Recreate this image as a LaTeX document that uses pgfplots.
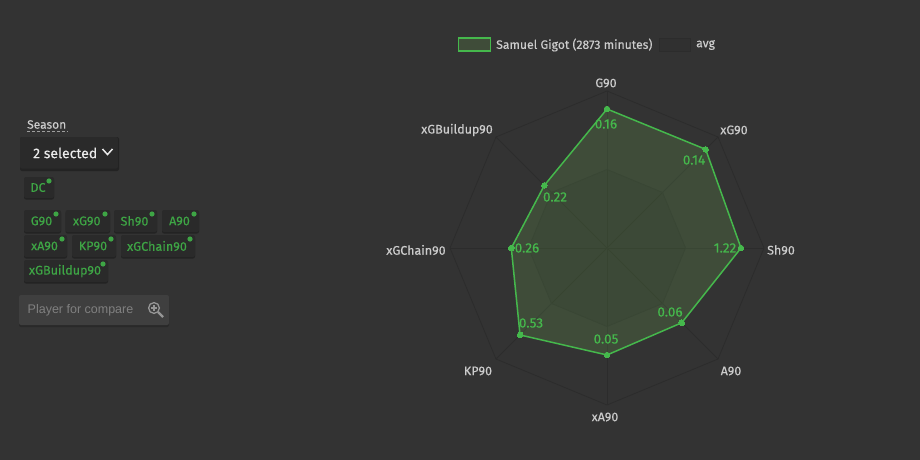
\documentclass[border=0pt]{standalone}
\usepackage{fontspec}
\setmainfont{Fira Sans}[FakeBold=0.3]
\newfontfamily\plfont{Liberation Sans}
\usepackage{pgfplots}
\pgfplotsset{compat=1.18}
\definecolor{bg}{HTML}{333333}
\definecolor{grn}{HTML}{45B84C}
\definecolor{btng}{HTML}{3EA545}
\definecolor{pfill}{HTML}{6FB055}
\definecolor{btn}{HTML}{2A2A2A}
\definecolor{btns}{HTML}{232323}
\definecolor{gridc}{HTML}{2C2C2C}
\definecolor{lab}{HTML}{CCCCCC}
\definecolor{plbox}{HTML}{3F3F3F}
\definecolor{pltext}{HTML}{808080}
\definecolor{plicon}{HTML}{969696}
\pgfplotsset{canvas/.style={scale only axis,width=920pt,height=460pt,hide axis,clip=false,anchor=south west,at={(0pt,0pt)}}}
\newcommand\btn[5]{% x1,y1,x2,y2,text
  \fill[btns,rounded corners=2pt] (axis cs:#1,#2+1.5) rectangle (axis cs:#3,#4+1.5);
  \fill[btn,rounded corners=2pt] (axis cs:#1,#2) rectangle (axis cs:#3,#4);
  \node[text=btng,font=\fontsize{12.6}{14}\selectfont,anchor=center] at (axis cs:{(#1+#3)/2-1},{(#2+#4)/2}) {#5};
  \fill[btng] (axis cs:#3-5,#2+4) circle (2.6pt);
}
\begin{document}
\begin{tikzpicture}
\begin{axis}[canvas,xmin=0,xmax=920,ymin=0,ymax=460,y dir=reverse]
\fill[bg] (axis cs:0,0) rectangle (axis cs:920,460);
% controls
\node[text=lab,font=\fontsize{12}{14}\selectfont,anchor=west,inner sep=0pt] at (axis cs:27,124.5) {Season};
\draw[lab!70!bg,densely dashed,line width=0.6pt] (axis cs:27,131.5) -- (axis cs:68,131.5);
\fill[btns,rounded corners=2pt] (axis cs:20,137) rectangle (axis cs:119,171);
\fill[btn,rounded corners=2pt] (axis cs:20,137) rectangle (axis cs:118,168.5);
\node[text=white!92!black,font=\fontsize{14}{16}\selectfont,anchor=west,inner sep=0pt] at (axis cs:33,153) {2 selected};
\draw[white!92!black,line width=1.5pt] (axis cs:102.5,149) -- (axis cs:107.5,154.5) -- (axis cs:112.5,149);
\btn{24}{177}{54}{198}{DC}
\btn{24}{210}{61}{232}{G90}
\btn{65.5}{210}{110}{232}{xG90}
\btn{114}{210}{157}{232}{Sh90}
\btn{162}{210}{199}{232}{A90}
\btn{24}{235}{67}{257}{xA90}
\btn{72}{235}{116}{257}{KP90}
\btn{121}{235}{195}{257}{xGChain90}
\btn{24}{260}{108}{282}{xGBuildup90}
\fill[btns!60!bg,rounded corners=2pt] (axis cs:19,296) rectangle (axis cs:169,327);
\fill[plbox,rounded corners=2pt] (axis cs:19,295) rectangle (axis cs:169,325);
\node[text=pltext,font=\plfont\fontsize{12.5}{14}\selectfont,anchor=west,inner sep=0pt] at (axis cs:27.5,310) {Player for compare};
\draw[plicon,line width=1.3pt] (axis cs:154,308) circle (5.4pt);
\draw[plicon,line width=2.4pt] (axis cs:158,312) -- (axis cs:163,317);
\draw[plicon,line width=1.1pt] (axis cs:151,308) -- (axis cs:157,308) (axis cs:154,305) -- (axis cs:154,311);
% legend
\fill[pfill,fill opacity=0.2] (axis cs:458.5,38) rectangle (axis cs:490.5,51);
\draw[grn,line width=1.2pt] (axis cs:458.5,38) rectangle (axis cs:490.5,51);
\fill[black,fill opacity=0.06] (axis cs:659,38) rectangle (axis cs:690,51);
\draw[gridc,line width=0.8pt] (axis cs:659,38) rectangle (axis cs:690,51);
\node[text=lab,font=\fontsize{12.2}{14}\selectfont,anchor=west,inner sep=0pt] at (axis cs:496,45) {Samuel Gigot (2873 minutes)};
\node[text=lab,font=\fontsize{12.2}{14}\selectfont,anchor=west,inner sep=0pt] at (axis cs:696,45) {avg};
% category labels
\node[text=lab,font=\fontsize{12.5}{14}\selectfont] at (axis cs:606,83) {G90};
\node[text=lab,font=\fontsize{12.5}{14}\selectfont] at (axis cs:734,130) {xG90};
\node[text=lab,font=\fontsize{12.5}{14}\selectfont] at (axis cs:781,250) {Sh90};
\node[text=lab,font=\fontsize{12.5}{14}\selectfont] at (axis cs:731,371) {A90};
\node[text=lab,font=\fontsize{12.5}{14}\selectfont] at (axis cs:605,417) {xA90};
\node[text=lab,font=\fontsize{12.5}{14}\selectfont] at (axis cs:478,371) {KP90};
\node[text=lab,font=\fontsize{12.5}{14}\selectfont] at (axis cs:416,250) {xGChain90};
\node[text=lab,font=\fontsize{12.5}{14}\selectfont] at (axis cs:457,130) {xGBuildup90};
\end{axis}
\begin{axis}[canvas,xmin=-607,xmax=313,ymin=-212,ymax=248]
% grid
\addplot[gridc,line width=0.8pt,data cs=polar] coordinates {(90,157)(45,157)(0,157)(-45,157)(-90,157)(-135,157)(180,157)(135,157)(90,157)};
\addplot[gridc,line width=0.8pt,data cs=polar] coordinates {(90,157)(-90,157)};
\addplot[gridc,line width=0.8pt,data cs=polar] coordinates {(45,157)(-135,157)};
\addplot[gridc,line width=0.8pt,data cs=polar] coordinates {(0,157)(180,157)};
\addplot[gridc,line width=0.8pt,data cs=polar] coordinates {(-45,157)(135,157)};
% avg
\addplot[draw=gridc,line width=0.8pt,fill=black,fill opacity=0.06,draw opacity=1,data cs=polar] coordinates {(90,78.5)(45,78.5)(0,78.5)(-45,78.5)(-90,78.5)(-135,78.5)(180,78.5)(135,78.5)(90,78.5)};
% player
\addplot[draw=none,fill=pfill,fill opacity=0.2,data cs=polar] coordinates {(90,139)(45,139.5)(0,134)(-45,105.7)(-90,107)(-135,123)(180,95.7)(135,88.6)(90,139)};
\addplot[grn,line width=1.5pt,line join=round,mark=*,mark size=2.8pt,mark options={fill=grn,draw=grn,line width=0pt},data cs=polar] coordinates {(90,139)(45,139.5)(0,134)(-45,105.7)(-90,107)(-135,123)(180,95.7)(135,88.6)(90,139)};
\node[text=grn,font=\fontsize{13.5}{14}\selectfont] at (axis cs:-1,124) {0.16};
\node[text=grn,font=\fontsize{13.5}{14}\selectfont] at (axis cs:87,88) {0.14};
\node[text=grn,font=\fontsize{13.5}{14}\selectfont] at (axis cs:118,0) {1.22};
\node[text=grn,font=\fontsize{13.5}{14}\selectfont] at (axis cs:63,-64) {0.06};
\node[text=grn,font=\fontsize{13.5}{14}\selectfont] at (axis cs:-1,-91) {0.05};
\node[text=grn,font=\fontsize{13.5}{14}\selectfont] at (axis cs:-76,-75) {0.53};
\node[text=grn,font=\fontsize{13.5}{14}\selectfont] at (axis cs:-80,0) {0.26};
\node[text=grn,font=\fontsize{13.5}{14}\selectfont] at (axis cs:-52,51) {0.22};
\end{axis}
\end{tikzpicture}
\end{document}
